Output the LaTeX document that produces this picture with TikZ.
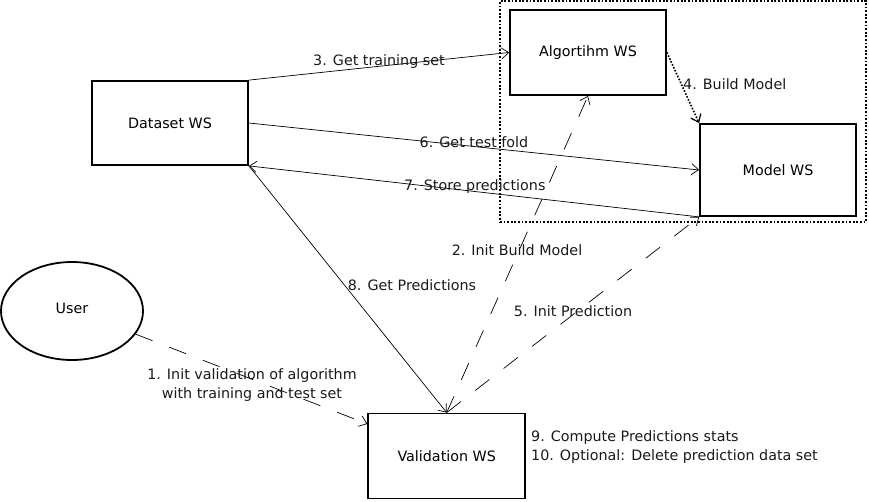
\documentclass[tikz,border=0pt]{standalone}
\usepackage{fontspec}
\setmainfont{DejaVu Sans}
\usetikzlibrary{arrows.meta,shapes.geometric}
\begin{document}
\begin{tikzpicture}[x=1pt,y=-1pt,
  box/.style={draw,line width=1.8pt,rectangle,inner sep=0pt,font=\fontsize{14.3}{17}\selectfont},
  usr/.style={draw,line width=1.8pt,ellipse,inner sep=0pt,minimum width=142pt,minimum height=98pt,font=\fontsize{14.3}{17}\selectfont},
  frame/.style={draw,line width=1.8pt,dash pattern=on 1.8pt off 1.8pt,inner sep=0pt},
  arr/.style={line width=0.7pt,-{Straight Barb[length=7pt,width=11pt,line width=0.7pt]}},
  dsh/.style={arr,dash pattern=on 18pt off 18pt},
  dot/.style={line width=1.6pt,dash pattern=on 1.6pt off 1.6pt,-{Straight Barb[length=7pt,width=11pt,line width=1.2pt]}},
  lbl/.style={inner sep=0pt,font=\fontsize{14.3}{19.5}\selectfont,text=black!90}]
\useasboundingbox (0,0) rectangle (869,501);
\node[frame,minimum width=366pt,minimum height=221pt] (grp) at (683,111.5) {};
\node[box,minimum width=156pt,minimum height=84pt] (ds) at (170,123) {Dataset WS};
\node[box,minimum width=156pt,minimum height=85pt] (alg) at (588,52.5) {Algortihm WS};
\node[box,minimum width=156pt,minimum height=92pt] (mod) at (778,170) {Model WS};
\node[box,minimum width=157pt,minimum height=85pt] (val) at (446.7,456) {Validation WS};
\node[usr] (user) at (72,311) {\raisebox{5pt}{User}};

\draw[dsh] (user.-20) -- (val.158);
\draw[dsh] (val.north) -- (alg.south);
\draw[arr] (ds.north east) -- (alg.west);
\draw[dot] (alg.east) -- (mod.north west);
\draw[dsh] (val.north) -- (mod.south west);
\draw[arr] (ds.east) -- (mod.west);
\draw[arr] (mod.south west) -- (ds.south east);
\draw[arr] (ds.south east) -- (val.north);

\node[lbl,align=center] (l1) at (252,385) {1. Init validation of algorithm\\with training and test set};
\node[lbl] (l2) at (517,250) {2. Init Build Model};
\node[lbl] (l3) at (379,62) {3. Get training set};
\node[lbl,anchor=west] (l4) at (683,84) {4. Build Model};
\node[lbl] (l5) at (573,311) {5. Init Prediction};
\node[lbl] (l6) at (474,142) {6. Get test fold};
\node[lbl,anchor=west] (l7) at (404,187) {7. Store predictions};
\node[lbl] (l8) at (412,285) {8. Get Predictions};
\node[lbl,anchor=west,align=left] (l9) at (531,447) {9. Compute Predictions stats\\10. Optional: Delete prediction data set};
\end{tikzpicture}
\end{document}
